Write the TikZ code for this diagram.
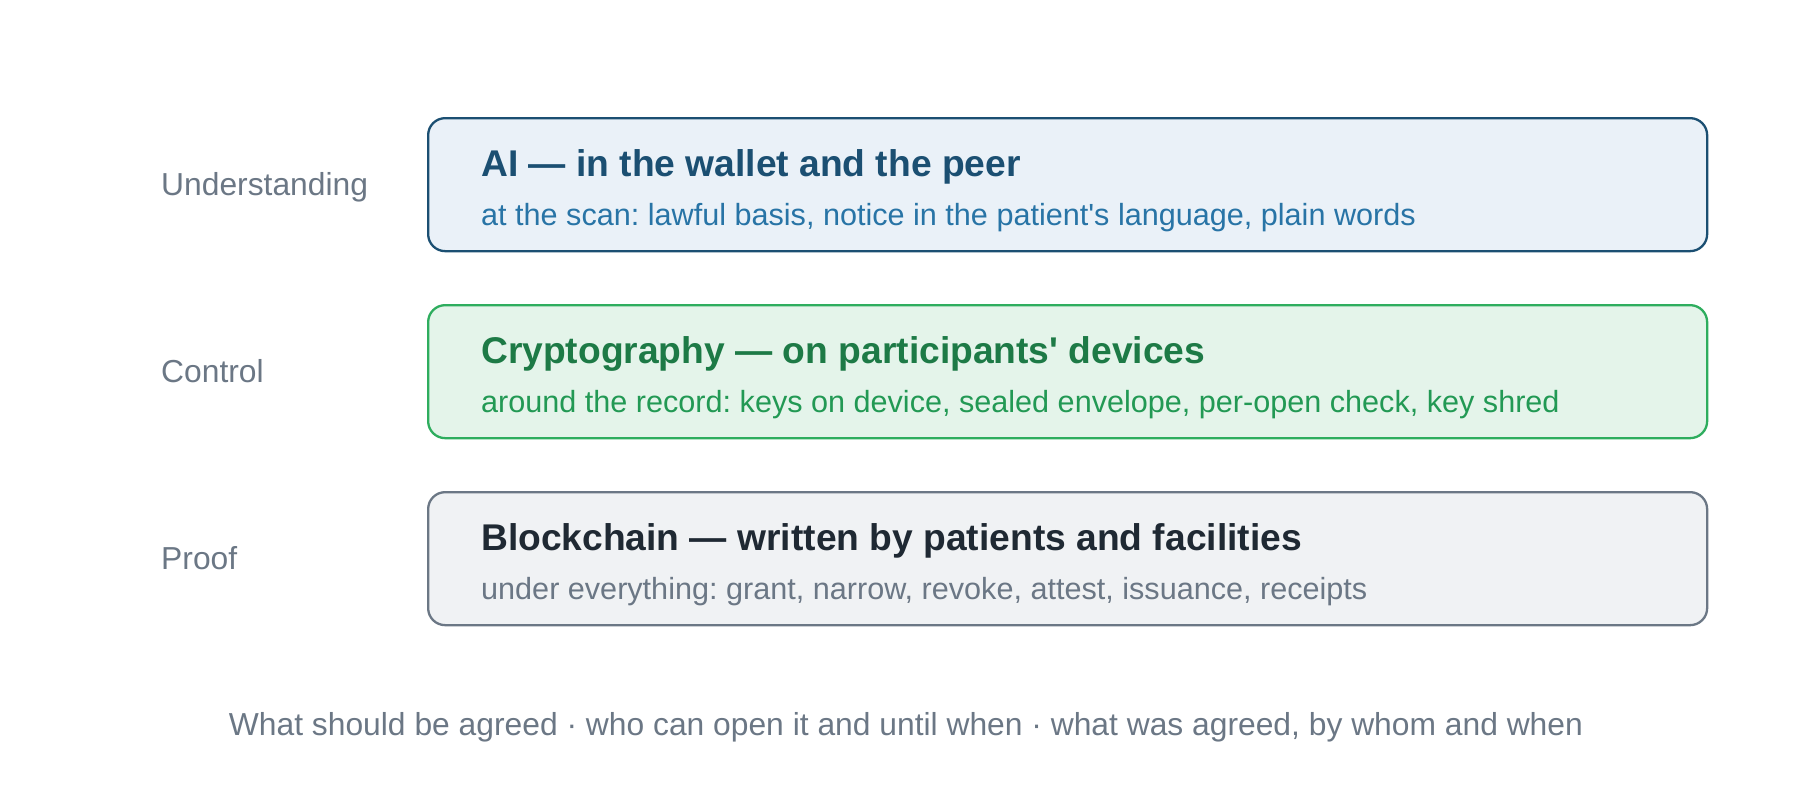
\documentclass[tikz,border=0pt]{standalone}
\usepackage{fontspec}
\setmainfont{Liberation Sans}
\usepackage{tikz}
\usetikzlibrary{positioning}
\frenchspacing

\definecolor{ailine}{HTML}{1B4F72}
\definecolor{aifill}{HTML}{EAF1F8}
\definecolor{aisub}{HTML}{2874A6}
\definecolor{cryline}{HTML}{2EAD5E}
\definecolor{cryfill}{HTML}{E4F4EA}
\definecolor{cryhead}{HTML}{1D7A46}
\definecolor{crysub}{HTML}{229954}
\definecolor{chline}{HTML}{6B7785}
\definecolor{chfill}{HTML}{F0F2F4}
\definecolor{chhead}{HTML}{1F2933}
\definecolor{muted}{HTML}{6B7785}

\begin{document}
\begin{tikzpicture}[x=1pt,y=-1pt,
    layer/.style={draw, line width=2.3pt, rounded corners=17pt, minimum width=1279pt,
      minimum height=133pt, anchor=north west, inner sep=0pt},
    head/.style={anchor=base west, inner sep=0pt, font=\fontsize{37.2}{40}\selectfont\bfseries},
    sub/.style={anchor=base west, inner sep=0pt, font=\fontsize{30.6}{34}\selectfont},
    side/.style={anchor=base west, inner sep=0pt, text=muted, font=\fontsize{31.8}{35}\selectfont}]
    \useasboundingbox (0,0) rectangle (1813,800);

    % the three layers
    \node [layer, draw=ailine, fill=aifill] (ai) at (427,117) {};
    \node [layer, draw=cryline, fill=cryfill] (crypto) at (427,304) {};
    \node [layer, draw=chline, fill=chfill] (chain) at (427,491) {};

    \node [head, text=ailine] (aihead) at (481,176) {AI — in the wallet and the peer};
    \node [sub, text=aisub] (aisub) at (481,225) {at the scan: lawful basis, notice in the patient\textquotesingle s language, plain words};

    \node [head, text=cryhead] (cryhead) at (481,363) {Cryptography — on participants\textquotesingle\ devices};
    \node [sub, text=crysub] (crysub) at (481,412) {around the record: keys on device, sealed envelope, per-open check, key shred};

    \node [head, text=chhead] (chhead) at (481,550) {Blockchain — written by patients and facilities};
    \node [sub, text=muted] (chsub) at (481,599) {under everything: grant, narrow, revoke, attest, issuance, receipts};

    % what each layer answers
    \node [side] (understanding) at (161,195) {Understanding};
    \node [side] (control) at (161,382) {Control};
    \node [side] (proof) at (161,569) {Proof};

    \node [text=muted, font=\fontsize{31.8}{35}\selectfont] (question) at (906,727.5)
        {What should be agreed · who can open it and until when · what was agreed, by whom and when};
\end{tikzpicture}
\end{document}
